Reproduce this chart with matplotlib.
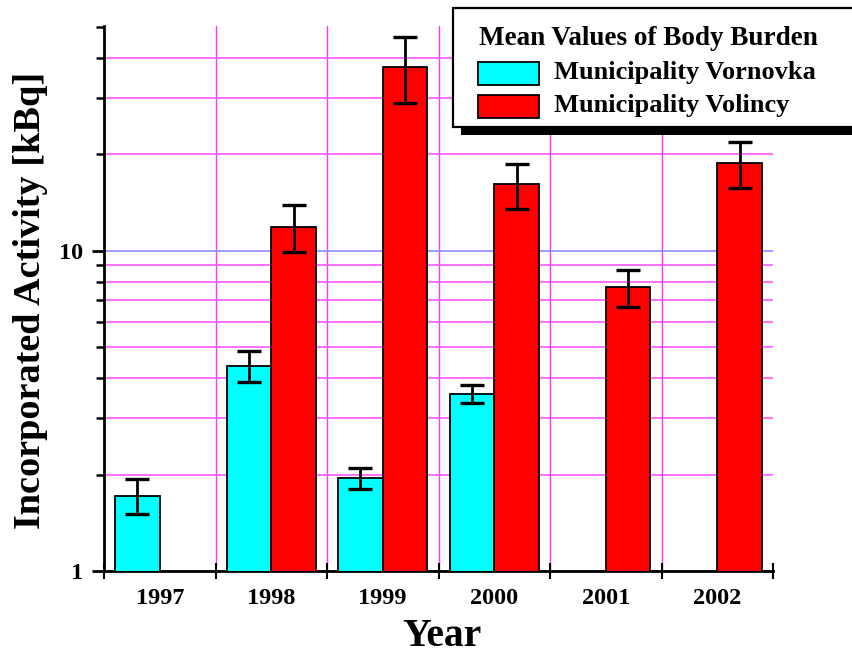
import numpy as np
import matplotlib
matplotlib.use("Agg")
import matplotlib.pyplot as plt
from matplotlib.patches import Rectangle
from matplotlib.ticker import FixedLocator, NullFormatter, FixedFormatter

years = ["1997", "1998", "1999", "2000", "2001", "2002"]
series_names = ["Municipality Vornovka", "Municipality Volincy"]
legend_title = "Mean Values of Body Burden"
vornovka = [1.72, 4.36, 1.95, 3.58, np.nan, np.nan]
vornovka_hi = [1.94, 4.85, 2.10, 3.82, np.nan, np.nan]
vornovka_lo = [1.51, 3.90, 1.80, 3.34, np.nan, np.nan]
volincy = [np.nan, 11.9, 37.5, 16.1, 7.69, 18.8]
volincy_hi = [np.nan, 13.9, 46.5, 18.7, 8.69, 21.9]
volincy_lo = [np.nan, 9.89, 28.9, 13.5, 6.69, 15.7]
colors = ["#00FFFF", "#FF0000"]

FONT = "Liberation Serif"
W, H = 852, 660
fig = plt.figure(figsize=(W / 100, H / 100), dpi=100)
L, R, T, B = 104, 773, 26, 571
ax = fig.add_axes([L / W, 1 - B / H, (R - L) / W, (B - T) / H])

x = np.arange(len(years))
bw = 0.4
for vals, hi, lo, off, c in [(vornovka, vornovka_hi, vornovka_lo, -0.2, colors[0]),
                              (volincy, volincy_hi, volincy_lo, 0.2, colors[1])]:
    v = np.array(vals, float)
    ax.bar(x + off, v, width=bw, color=c, edgecolor="black", linewidth=1.3, zorder=3)
    yerr = np.array([v - np.array(lo, float), np.array(hi, float) - v])
    ax.errorbar(x + off, v, yerr=yerr, fmt="none", ecolor="black", elinewidth=2,
                capsize=8.5, capthick=2.4, zorder=4)

ax.set_yscale("log")
ax.set_ylim(1, 50.3)
ax.set_xlim(-0.5, len(years) - 0.5)

# y ticks
ax.yaxis.set_major_locator(FixedLocator([1, 10]))
ax.yaxis.set_major_formatter(FixedFormatter(["1", "10"]))
minor_y = [2, 3, 4, 5, 6, 7, 8, 9, 20, 30, 40, 50]
ax.yaxis.set_minor_locator(FixedLocator(minor_y))
ax.yaxis.set_minor_formatter(NullFormatter())
ax.tick_params(axis="y", which="major", direction="out", length=9, width=2, pad=6)
ax.tick_params(axis="y", which="minor", direction="out", length=6, width=1.8)

# x ticks
ax.set_xticks(x)
ax.set_xticklabels(years)
ax.set_xticks(np.arange(-0.5, len(years)), minor=True)
ax.tick_params(axis="x", which="major", length=0, pad=12)
ax.tick_params(axis="x", which="minor", direction="inout", length=12, width=1.5)

for lab in ax.get_xticklabels() + ax.get_yticklabels():
    lab.set_fontfamily(FONT)
    lab.set_fontweight("bold")
    lab.set_fontsize(17.5)

# grids
ax.set_axisbelow(True)
ax.grid(True, axis="y", which="minor", color="#FF55FF", linewidth=1.2)
ax.grid(True, axis="y", which="major", color="#8C8CFF", linewidth=1.2)
ax.grid(True, axis="x", which="minor", color="#FF33FF", linewidth=1.0)
ax.grid(False, axis="x", which="major")
ax.yaxis.get_minor_ticks()[-1].gridline.set_visible(False)
ax.xaxis.get_minor_ticks()[0].gridline.set_visible(False)
ax.xaxis.get_minor_ticks()[-1].gridline.set_visible(False)

for s in ["top", "right"]:
    ax.spines[s].set_visible(False)
for s in ["left", "bottom"]:
    ax.spines[s].set_linewidth(2)

# axis titles
fig.text(31 / W, 1 - 300 / H, "Incorporated Activity [kBq]", rotation=90, ha="center",
         va="center", fontfamily=FONT, fontweight="bold", fontsize=27.5)
fig.text(442 / W, 1 - 636 / H, "Year", ha="center", va="center",
         fontfamily=FONT, fontweight="bold", fontsize=28.5)

# legend (drawn in figure pixel coordinates)
def rect(x0, y0, x1, y1, **kw):
    r = Rectangle((x0 / W, 1 - y1 / H), (x1 - x0) / W, (y1 - y0) / H,
                  transform=fig.transFigure, **kw)
    fig.add_artist(r)

rect(461, 16, 880, 135, facecolor="black", edgecolor="none", zorder=10)
rect(453, 8, 880, 127, facecolor="white", edgecolor="black", linewidth=1.6, zorder=11)
fig.text(479 / W, 1 - 45 / H, legend_title, ha="left", va="baseline",
         fontfamily=FONT, fontweight="bold", fontsize=19.5, zorder=12)
for i, (name, c) in enumerate(zip(series_names, colors)):
    y0 = 62 + i * 33
    rect(478, y0, 539, y0 + 23, facecolor=c, edgecolor="black", linewidth=1.3, zorder=12)
    fig.text(554 / W, 1 - (y0 + 17) / H, name, ha="left", va="baseline",
             fontfamily=FONT, fontweight="bold", fontsize=19, zorder=12)

fig.savefig("out.png", dpi=100)
